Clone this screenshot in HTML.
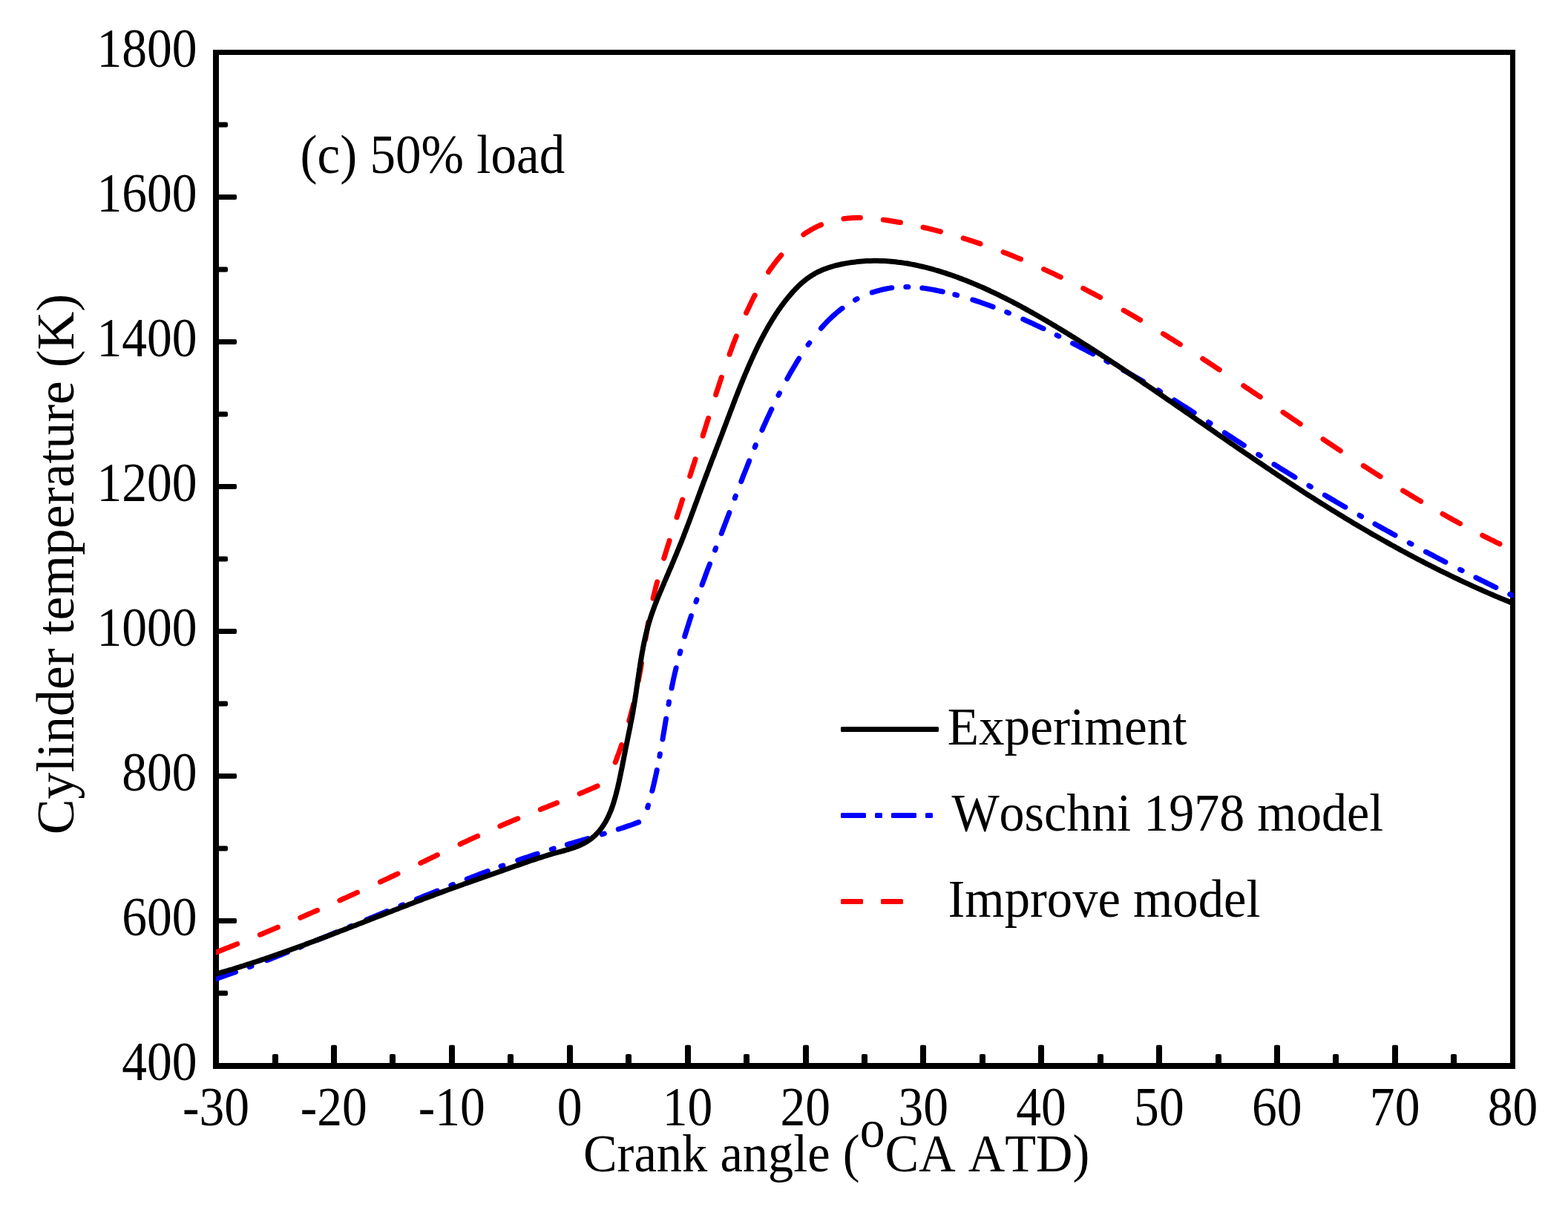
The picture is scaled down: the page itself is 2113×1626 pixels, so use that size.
<!DOCTYPE html>
<html lang="en">
<head>
<meta charset="utf-8">
<title>Cylinder temperature vs crank angle (c) 50% load</title>
<style>
html,body{margin:0;padding:0;background:#fff;}
body{width:2113px;height:1626px;overflow:hidden;}
svg{display:block;}
svg text{font-family:"Liberation Serif","Times New Roman",Times,serif;fill:#000;stroke:#000;stroke-width:0px;stroke-linejoin:round;paint-order:stroke fill;font-kerning:none;font-variant-ligatures:none;white-space:pre;}
</style>
</head>
<body>
<svg xmlns="http://www.w3.org/2000/svg" width="2113" height="1626" viewBox="0 0 2113 1626">
<rect x="0" y="0" width="2113" height="1626" fill="#fff"/>
<defs><clipPath id="plot"><rect x="291.00" y="70.50" width="1748.70" height="1365.50"/></clipPath></defs>
<g fill="#000"><rect x="367" y="1420" width="8" height="16" rx="2"/>
<rect x="446" y="1407.75" width="8" height="28.25" rx="2"/>
<rect x="525" y="1420" width="8" height="16" rx="2"/>
<rect x="605" y="1407.75" width="8" height="28.25" rx="2"/>
<rect x="684" y="1420" width="8" height="16" rx="2"/>
<rect x="764" y="1407.75" width="8" height="28.25" rx="2"/>
<rect x="843" y="1420" width="8" height="16" rx="2"/>
<rect x="923" y="1407.75" width="8" height="28.25" rx="2"/>
<rect x="1002" y="1420" width="8" height="16" rx="2"/>
<rect x="1082" y="1407.75" width="8" height="28.25" rx="2"/>
<rect x="1161" y="1420" width="8" height="16" rx="2"/>
<rect x="1240" y="1407.75" width="8" height="28.25" rx="2"/>
<rect x="1320" y="1420" width="8" height="16" rx="2"/>
<rect x="1399" y="1407.75" width="8" height="28.25" rx="2"/>
<rect x="1479" y="1420" width="8" height="16" rx="2"/>
<rect x="1558" y="1407.75" width="8" height="28.25" rx="2"/>
<rect x="1638" y="1420" width="8" height="16" rx="2"/>
<rect x="1717" y="1407.75" width="8" height="28.25" rx="2"/>
<rect x="1796" y="1420" width="8" height="16" rx="2"/>
<rect x="1876" y="1407.75" width="8" height="28.25" rx="2"/>
<rect x="1955" y="1420" width="8" height="16" rx="2"/>
<rect x="291" y="1334.5" width="16" height="7" rx="2"/>
<rect x="291" y="1237" width="28.05" height="7" rx="2"/>
<rect x="291" y="1139.5" width="16" height="7" rx="2"/>
<rect x="291" y="1042" width="28.05" height="7" rx="2"/>
<rect x="291" y="944.5" width="16" height="7" rx="2"/>
<rect x="291" y="847" width="28.05" height="7" rx="2"/>
<rect x="291" y="749.5" width="16" height="7" rx="2"/>
<rect x="291" y="652" width="28.05" height="7" rx="2"/>
<rect x="291" y="554.5" width="16" height="7" rx="2"/>
<rect x="291" y="457" width="28.05" height="7" rx="2"/>
<rect x="291" y="359.5" width="16" height="7" rx="2"/>
<rect x="291" y="262" width="28.05" height="7" rx="2"/>
<rect x="291" y="164.5" width="16" height="7" rx="2"/></g>
<path d="M287 67H2042V1440H287Z M295 74V1432H2035V74Z" fill="#000" fill-rule="evenodd"/>
<g clip-path="url(#plot)">
<path d="M289.1 1319.3 L289.6 1319.2 L292.4 1318.2 L295.3 1317.3 L298.1 1316.3 L301.0 1315.3 L303.8 1314.3 L306.6 1313.3 L309.5 1312.3 L312.3 1311.3 L315.1 1310.3 L317.5 1309.5 M336.2 1302.6 L336.7 1302.4 L339.0 1301.5 M359.6 1293.7 L360.1 1293.5 L362.9 1292.4 L365.6 1291.4 L368.4 1290.3 L371.2 1289.2 L374.0 1288.1 L376.8 1287.0 L379.6 1285.9 L382.4 1284.7 L385.2 1283.6 L387.5 1282.7 M404.2 1276.0 L404.6 1275.8 L407.0 1274.8 M427.3 1266.5 L427.8 1266.3 L430.6 1265.2 L433.3 1264.0 L436.1 1262.9 L438.9 1261.8 L441.7 1260.6 L444.4 1259.5 L447.2 1258.3 L450.0 1257.2 L452.7 1256.0 L454.1 1255.5 M470.8 1248.6 L471.2 1248.4 L473.5 1247.4 M493.9 1239.0 L494.3 1238.8 L497.1 1237.7 L499.9 1236.5 L502.7 1235.4 L505.4 1234.3 L508.2 1233.1 L511.0 1232.0 L513.8 1230.8 L516.5 1229.7 L519.3 1228.5 L521.6 1227.6 M540.1 1220.0 L540.6 1219.8 L542.9 1218.9 M561.4 1211.3 L561.9 1211.1 L564.7 1210.0 L567.5 1208.9 L570.2 1207.7 L573.0 1206.6 L575.8 1205.5 L578.6 1204.4 L581.4 1203.3 L584.2 1202.1 L586.9 1201.0 L589.3 1200.1 M607.8 1192.7 L608.3 1192.5 L610.6 1191.6 M629.2 1184.3 L629.7 1184.1 L632.5 1183.0 L635.3 1181.9 L638.1 1180.9 L640.9 1179.8 L643.7 1178.7 L646.5 1177.6 L649.3 1176.6 L652.1 1175.5 L654.9 1174.5 L657.3 1173.6 M675.1 1167.0 L675.5 1166.8 L677.9 1166.0 M697.7 1159.0 L698.2 1158.8 L701.0 1157.9 L703.8 1156.9 L706.7 1155.9 L709.5 1155.0 L712.4 1154.0 L715.2 1153.1 L718.1 1152.1 L720.9 1151.2 L723.8 1150.3 L724.2 1150.1 M743.3 1144.1 L743.8 1144.0 L746.2 1143.2 M764.4 1137.7 L764.9 1137.6 L767.7 1136.7 L770.6 1135.9 L773.5 1135.0 L776.4 1134.2 L779.3 1133.4 L782.1 1132.5 L785.0 1131.7 L787.9 1130.8 L790.8 1130.0 L792.2 1129.6 M811.4 1123.9 L811.9 1123.8 L814.3 1123.0 M833.3 1117.1 L833.8 1116.9 L836.7 1116.0 L839.5 1115.1 L842.3 1114.1 L845.2 1113.1 L848.0 1112.2 L850.8 1111.2 L853.7 1110.2 L856.5 1109.1 L859.3 1108.1 L860.7 1107.6 M872.7 1087.7 L872.8 1087.2 L873.5 1084.8 M878.8 1065.5 L879.0 1065.0 L879.7 1062.1 L880.4 1059.2 L881.1 1056.3 L881.8 1053.4 L882.4 1050.4 L883.1 1047.5 L883.7 1044.6 L884.4 1041.7 L885.0 1038.7 L885.3 1037.3 M888.9 1018.6 L889.0 1018.1 L889.4 1015.7 M892.9 995.9 L893.0 995.4 L893.5 992.5 L894.0 989.5 L894.5 986.6 L895.0 983.6 L895.5 980.6 L896.0 977.7 L896.5 974.7 L897.0 971.7 L897.5 968.8 L897.6 968.3 M901.0 948.6 L901.1 948.1 L901.5 945.6 M905.1 927.0 L905.2 926.5 L905.8 923.5 L906.4 920.6 L907.0 917.7 L907.6 914.7 L908.3 911.8 L908.9 908.9 L909.6 906.0 L910.3 903.1 L911.0 900.1 L911.1 899.7 M916.1 880.3 L916.2 879.8 L916.9 877.4 M922.7 857.3 L922.8 856.8 L923.7 853.9 L924.6 851.1 L925.5 848.2 L926.4 845.3 L927.3 842.5 L928.2 839.6 L929.1 836.8 L930.0 833.9 L931.0 831.1 L931.4 829.6 M937.9 810.7 L938.1 810.2 L938.9 807.8 M946.0 788.0 L946.1 787.6 L947.2 784.7 L948.2 781.9 L949.3 779.1 L950.3 776.3 L951.3 773.5 L952.4 770.6 L953.4 767.8 L954.5 765.0 L955.6 762.2 L956.5 759.8 M963.6 741.1 L963.8 740.6 L964.6 738.3 M972.2 718.7 L972.4 718.2 L973.4 715.4 L974.5 712.6 L975.6 709.8 L976.6 707.0 L977.7 704.2 L978.8 701.4 L979.8 698.6 L980.9 695.8 L982.0 693.0 L982.8 690.6 M990.3 671.0 L990.4 670.5 L991.3 668.2 M998.8 648.6 L999.0 648.2 L1000.0 645.4 L1001.1 642.6 L1002.2 639.8 L1003.3 637.0 L1004.4 634.3 L1005.5 631.5 L1006.6 628.7 L1007.7 625.9 L1008.8 623.1 L1009.7 620.8 M1017.2 602.4 L1017.4 601.9 L1018.3 599.6 M1026.9 579.4 L1027.1 579.0 L1028.3 576.2 L1029.5 573.5 L1030.8 570.8 L1032.0 568.0 L1033.2 565.3 L1034.5 562.6 L1035.7 559.9 L1037.0 557.2 L1038.3 554.4 L1039.5 551.7 L1039.8 551.3 M1049.0 532.4 L1049.3 532.0 L1050.4 529.7 M1060.8 510.2 L1061.1 509.7 L1062.5 507.1 L1064.0 504.4 L1065.5 501.8 L1067.0 499.2 L1068.6 496.5 L1070.1 493.9 L1071.7 491.3 L1073.2 488.7 L1074.8 486.1 L1076.4 483.5 L1076.7 483.0 M1089.0 464.4 L1089.3 464.0 L1090.8 462.0 M1106.4 442.3 L1106.7 441.9 L1108.7 439.6 L1110.7 437.4 L1112.7 435.3 L1114.8 433.1 L1116.9 431.0 L1119.0 429.0 L1121.2 426.9 L1123.4 424.9 L1125.6 423.0 L1127.8 421.0 L1130.1 419.2 L1132.4 417.3 L1134.7 415.5 L1135.1 415.3 M1152.5 404.0 L1152.9 403.8 L1155.1 402.6 M1175.3 394.0 L1175.8 393.9 L1178.6 393.0 L1181.5 392.1 L1184.5 391.3 L1187.4 390.5 L1190.3 389.8 L1193.3 389.2 L1196.3 388.6 L1199.2 388.1 L1201.8 387.8 M1220.8 386.4 L1221.3 386.4 L1223.8 386.4 M1242.8 388.0 L1243.3 388.0 L1246.2 388.4 L1249.2 388.9 L1252.2 389.4 L1255.1 389.9 L1258.1 390.4 L1261.0 391.0 L1264.0 391.6 L1266.9 392.2 L1269.8 392.8 L1270.3 392.9 M1286.8 396.9 L1287.3 397.0 L1289.7 397.6 M1310.8 403.8 L1311.2 404.0 L1314.1 404.9 L1316.9 405.8 L1319.8 406.7 L1322.6 407.7 L1325.4 408.7 L1328.2 409.7 L1331.1 410.7 L1333.9 411.7 L1336.7 412.7 L1338.1 413.3 M1356.7 420.6 L1357.2 420.8 L1359.5 421.7 M1378.8 430.0 L1379.3 430.2 L1382.0 431.5 L1384.7 432.7 L1387.5 434.0 L1390.2 435.2 L1392.9 436.5 L1395.7 437.8 L1398.4 439.1 L1401.1 440.3 L1403.8 441.6 L1406.1 442.7 M1424.1 451.6 L1424.6 451.8 L1426.8 452.9 M1445.6 462.5 L1446.1 462.7 L1448.7 464.1 L1451.4 465.5 L1454.1 466.9 L1456.7 468.3 L1459.4 469.7 L1462.1 471.0 L1464.7 472.4 L1467.4 473.8 L1470.0 475.2 L1472.7 476.6 L1473.1 476.8 M1490.8 486.2 L1491.2 486.4 L1493.4 487.6 M1513.6 498.6 L1514.0 498.8 L1516.6 500.2 L1519.2 501.7 L1521.8 503.1 L1524.4 504.6 L1527.0 506.1 L1529.6 507.5 L1532.2 509.0 L1534.8 510.5 L1537.4 512.0 L1540.0 513.5 L1540.4 513.7 M1561.0 525.8 L1561.5 526.1 L1563.6 527.4 M1582.3 538.9 L1582.7 539.2 L1585.2 540.8 L1587.8 542.4 L1590.3 544.0 L1592.8 545.6 L1595.4 547.2 L1597.9 548.8 L1600.4 550.4 L1602.9 552.0 L1605.4 553.7 L1608.0 555.3 L1609.2 556.1 M1628.5 568.7 L1628.9 569.0 L1631.0 570.3 M1650.3 583.0 L1650.7 583.2 L1653.2 584.9 L1655.7 586.5 L1658.3 588.2 L1660.8 589.8 L1663.3 591.4 L1665.8 593.1 L1668.3 594.7 L1670.9 596.3 L1673.4 598.0 L1675.9 599.6 L1676.3 599.9 M1695.7 612.3 L1696.2 612.5 L1698.3 613.9 M1716.9 625.6 L1717.4 625.8 L1719.9 627.4 L1722.5 629.0 L1725.0 630.6 L1727.6 632.2 L1730.1 633.7 L1732.7 635.3 L1735.2 636.9 L1737.8 638.5 L1740.3 640.0 L1742.9 641.6 L1745.0 642.9 M1763.9 654.3 L1764.3 654.6 L1766.4 655.8 M1785.3 667.1 L1785.8 667.3 L1788.3 668.9 L1790.9 670.4 L1793.5 671.9 L1796.1 673.4 L1798.7 674.9 L1801.3 676.5 L1803.9 678.0 L1806.5 679.5 L1809.1 681.0 L1811.6 682.5 L1812.9 683.2 M1832.0 694.2 L1832.5 694.4 L1834.6 695.7 M1852.9 706.0 L1853.3 706.2 L1856.0 707.7 L1858.6 709.2 L1861.2 710.6 L1863.8 712.1 L1866.4 713.5 L1869.1 715.0 L1871.7 716.4 L1874.3 717.9 L1876.9 719.3 L1879.6 720.8 L1880.0 721.0 M1899.3 731.5 L1899.8 731.8 L1902.0 732.9 M1921.4 743.3 L1921.8 743.5 L1924.5 744.9 L1927.1 746.3 L1929.8 747.7 L1932.4 749.1 L1935.1 750.5 L1937.7 751.9 L1940.4 753.3 L1943.1 754.7 L1945.7 756.1 L1947.9 757.2 M1967.5 767.3 L1967.9 767.5 L1970.2 768.6 M1988.9 778.1 L1989.4 778.3 L1992.0 779.7 L1994.7 781.0 L1997.4 782.3 L2000.1 783.7 L2002.8 785.0 L2005.5 786.3 L2008.2 787.7 L2010.9 789.0 L2013.6 790.3 L2015.8 791.4 M2034.7 800.6 L2035.2 800.8 L2037.4 801.9" fill="none" stroke="#0000ff" stroke-width="7" stroke-linecap="round" stroke-linejoin="round"/>
<path d="M289.0 1283.8 L289.5 1283.6 L292.3 1282.5 L295.1 1281.4 L297.9 1280.3 L300.6 1279.2 L303.4 1278.1 L306.2 1277.0 L309.0 1275.9 L311.8 1274.8 L314.6 1273.7 L317.4 1272.6 L319.7 1271.6 M350.3 1259.2 L350.8 1259.0 L353.5 1257.9 L356.3 1256.7 L359.1 1255.6 L361.8 1254.4 L364.6 1253.3 L367.4 1252.1 L370.2 1250.9 L372.9 1249.8 L374.3 1249.2 M404.7 1236.3 L405.1 1236.1 L407.9 1234.9 L410.6 1233.7 L413.4 1232.5 L416.2 1231.3 L418.9 1230.1 L421.7 1228.9 L424.4 1227.7 L427.2 1226.5 L427.6 1226.3 M457.8 1212.9 L458.3 1212.7 L461.0 1211.5 L463.7 1210.3 L466.5 1209.1 L469.2 1207.8 L471.9 1206.6 L474.7 1205.3 L477.4 1204.1 L480.1 1202.9 L481.5 1202.3 M512.4 1188.1 L512.9 1187.9 L515.6 1186.6 L518.3 1185.3 L521.1 1184.1 L523.8 1182.8 L526.5 1181.5 L529.2 1180.3 L531.9 1179.0 L534.7 1177.7 L536.0 1177.1 M566.8 1162.6 L567.2 1162.4 L569.9 1161.1 L572.6 1159.8 L575.4 1158.5 L578.1 1157.2 L580.8 1155.9 L583.5 1154.6 L586.2 1153.3 L588.9 1152.0 L589.4 1151.8 M620.1 1137.2 L620.5 1137.0 L623.2 1135.7 L626.0 1134.4 L628.7 1133.2 L631.4 1131.9 L634.1 1130.6 L636.8 1129.4 L639.6 1128.1 L642.3 1126.9 L643.7 1126.3 M673.8 1112.9 L674.3 1112.7 L677.0 1111.5 L679.8 1110.3 L682.5 1109.1 L685.3 1108.0 L688.1 1106.8 L690.8 1105.6 L693.6 1104.5 L696.4 1103.3 L697.8 1102.8 M728.3 1090.4 L728.8 1090.2 L731.6 1089.1 L734.4 1088.0 L737.2 1086.9 L740.0 1085.8 L742.7 1084.7 L745.5 1083.5 L748.3 1082.4 L750.6 1081.5 M781.2 1069.1 L781.6 1068.9 L784.4 1067.8 L787.2 1066.6 L789.9 1065.5 L792.7 1064.3 L795.5 1063.1 L798.2 1061.9 L801.0 1060.7 L803.7 1059.5 L805.1 1058.9 M829.2 1026.9 L829.4 1026.5 L830.5 1023.6 L831.5 1020.8 L832.5 1018.0 L833.6 1015.2 L834.6 1012.4 L835.6 1009.5 L836.6 1006.7 L837.5 1003.9 L837.7 1003.4 M847.8 971.0 L847.9 970.5 L848.7 967.6 L849.5 964.7 L850.3 961.8 L851.0 958.9 L851.8 956.0 L852.5 953.1 L853.2 950.2 L853.5 948.8 M860.4 916.5 L860.5 916.0 L861.0 913.0 L861.6 910.1 L862.1 907.1 L862.7 904.2 L863.2 901.2 L863.7 898.3 L864.2 895.3 L864.5 893.8 M869.8 861.2 L869.9 860.7 L870.4 857.7 L870.9 854.7 L871.4 851.8 L871.9 848.8 L872.4 845.8 L872.9 842.9 L873.4 839.9 L873.7 838.4 M880.1 806.1 L880.2 805.6 L880.9 802.7 L881.6 799.8 L882.3 796.9 L883.0 794.0 L883.7 791.1 L884.5 788.2 L885.2 785.3 L885.6 783.9 M894.7 752.2 L894.9 751.8 L895.7 748.9 L896.6 746.0 L897.5 743.2 L898.4 740.3 L899.3 737.4 L900.2 734.6 L901.1 731.7 L902.0 728.9 L902.1 728.4 M912.1 696.9 L912.2 696.4 L913.1 693.5 L914.0 690.7 L914.9 687.8 L915.9 684.9 L916.8 682.1 L917.7 679.2 L918.6 676.3 L919.5 673.5 L919.7 673.0 M929.7 641.5 L929.9 641.0 L930.8 638.1 L931.7 635.2 L932.6 632.4 L933.5 629.5 L934.5 626.6 L935.4 623.8 L936.3 620.9 L937.1 618.5 M947.1 587.1 L947.2 586.6 L948.1 583.7 L949.1 580.9 L950.0 578.0 L950.9 575.2 L951.8 572.3 L952.7 569.4 L953.6 566.6 L954.5 563.7 L954.6 563.3 M964.6 531.9 L964.7 531.5 L965.6 528.6 L966.5 525.8 L967.5 522.9 L968.4 520.1 L969.3 517.3 L970.2 514.4 L971.2 511.6 L972.1 508.8 L972.3 508.3 M983.1 477.3 L983.2 476.8 L984.2 474.0 L985.3 471.2 L986.3 468.4 L987.4 465.6 L988.4 462.8 L989.5 460.0 L990.6 457.2 L991.7 454.4 L992.3 453.0 M1005.6 421.6 L1005.8 421.1 L1007.1 418.4 L1008.4 415.6 L1009.7 412.9 L1011.0 410.1 L1012.3 407.4 L1013.7 404.7 L1015.0 401.9 L1016.4 399.2 L1017.2 397.8 M1035.6 366.4 L1035.9 365.9 L1037.6 363.4 L1039.4 360.9 L1041.2 358.5 L1042.9 356.0 L1044.8 353.6 L1046.6 351.2 L1048.5 348.8 L1050.5 346.5 L1052.4 344.2 L1052.8 343.8 M1082.8 316.0 L1083.2 315.7 L1085.6 314.0 L1088.1 312.4 L1090.6 310.9 L1093.1 309.4 L1095.7 308.0 L1098.3 306.6 L1100.9 305.3 L1103.6 304.1 L1106.3 303.0 L1106.6 302.8 M1136.9 294.7 L1137.3 294.6 L1140.2 294.3 L1143.1 293.9 L1146.1 293.7 L1149.0 293.5 L1152.0 293.4 L1154.9 293.3 L1157.9 293.3 L1159.4 293.3 M1190.4 296.0 L1190.9 296.1 L1193.9 296.5 L1196.9 297.0 L1199.9 297.5 L1202.9 298.0 L1205.9 298.5 L1208.9 299.0 L1211.9 299.6 L1213.4 299.8 M1244.0 306.2 L1244.5 306.3 L1247.4 307.0 L1250.4 307.7 L1253.3 308.4 L1256.2 309.1 L1259.1 309.9 L1262.1 310.6 L1265.0 311.4 L1267.4 312.0 M1298.2 320.9 L1298.7 321.1 L1301.6 322.0 L1304.5 322.9 L1307.3 323.8 L1310.2 324.7 L1313.0 325.7 L1315.9 326.6 L1318.7 327.6 L1321.1 328.4 M1352.1 339.7 L1352.6 339.9 L1355.4 341.0 L1358.2 342.1 L1361.0 343.2 L1363.8 344.3 L1366.6 345.4 L1369.4 346.6 L1372.1 347.7 L1374.9 348.9 L1375.4 349.0 M1406.6 362.6 L1407.0 362.9 L1409.8 364.1 L1412.5 365.4 L1415.2 366.6 L1417.9 367.9 L1420.7 369.2 L1423.4 370.5 L1426.1 371.8 L1428.8 373.1 L1429.3 373.3 M1459.7 388.5 L1460.1 388.7 L1462.8 390.1 L1465.5 391.5 L1468.1 392.9 L1470.8 394.3 L1473.4 395.7 L1476.1 397.1 L1478.7 398.5 L1481.4 399.9 L1482.7 400.6 M1514.2 418.1 L1514.6 418.3 L1517.2 419.8 L1519.8 421.3 L1522.4 422.8 L1525.0 424.3 L1527.6 425.8 L1530.2 427.3 L1532.8 428.8 L1535.3 430.4 L1536.6 431.1 M1567.4 449.7 L1567.9 449.9 L1570.4 451.5 L1573.0 453.1 L1575.5 454.7 L1578.1 456.2 L1580.6 457.8 L1583.2 459.4 L1585.7 461.0 L1588.2 462.6 L1590.4 463.9 M1620.7 483.3 L1621.1 483.6 L1623.6 485.2 L1626.1 486.8 L1628.7 488.5 L1631.2 490.1 L1633.7 491.8 L1636.2 493.4 L1638.7 495.1 L1641.2 496.7 L1643.3 498.1 M1675.8 519.6 L1676.2 519.9 L1678.7 521.6 L1681.2 523.3 L1683.7 524.9 L1686.2 526.6 L1688.7 528.3 L1691.2 530.0 L1693.7 531.6 L1696.2 533.3 L1698.3 534.7 M1729.0 555.4 L1729.4 555.7 L1731.9 557.4 L1734.4 559.0 L1736.8 560.7 L1739.3 562.4 L1741.8 564.1 L1744.3 565.8 L1746.8 567.4 L1749.3 569.1 L1751.8 570.8 L1752.2 571.1 M1783.0 591.7 L1783.4 592.0 L1785.9 593.6 L1788.4 595.3 L1790.9 597.0 L1793.4 598.6 L1795.9 600.3 L1798.4 601.9 L1800.9 603.6 L1803.4 605.3 L1805.9 606.9 L1806.3 607.2 M1837.3 627.4 L1837.7 627.7 L1840.3 629.3 L1842.8 630.9 L1845.3 632.5 L1847.8 634.1 L1850.4 635.8 L1852.9 637.4 L1855.4 639.0 L1858.0 640.6 L1860.1 641.9 M1890.6 660.9 L1891.1 661.2 L1893.6 662.7 L1896.2 664.3 L1898.7 665.8 L1901.3 667.4 L1903.9 668.9 L1906.5 670.5 L1909.0 672.0 L1911.6 673.5 L1914.2 675.0 L1914.6 675.3 M1944.0 692.3 L1944.5 692.6 L1947.1 694.0 L1949.7 695.5 L1952.3 697.0 L1954.9 698.4 L1957.5 699.9 L1960.2 701.3 L1962.8 702.7 L1965.4 704.2 L1967.6 705.4 M1997.7 721.2 L1998.2 721.5 L2000.8 722.8 L2003.5 724.2 L2006.2 725.5 L2008.9 726.9 L2011.6 728.2 L2014.3 729.5 L2017.0 730.9 L2019.7 732.2 L2021.0 732.8" fill="none" stroke="#ff0000" stroke-width="7" stroke-linecap="round" stroke-linejoin="round"/>
<path d="M285.0 1313.8 L287.9 1313.0 L290.8 1312.2 L293.7 1311.4 L296.6 1310.5 L299.4 1309.7 L302.3 1308.9 L305.2 1308.0 L308.1 1307.2 L311.0 1306.3 L313.8 1305.5 L316.7 1304.6 L319.6 1303.7 L322.4 1302.8 L325.3 1301.9 L328.2 1301.0 L331.0 1300.1 L333.9 1299.2 L336.7 1298.3 L339.6 1297.4 L342.4 1296.4 L345.3 1295.5 L348.1 1294.6 L351.0 1293.6 L353.8 1292.7 L356.7 1291.7 L359.5 1290.7 L362.4 1289.8 L365.2 1288.8 L368.0 1287.8 L370.9 1286.8 L373.7 1285.9 L376.5 1284.9 L379.4 1283.9 L382.2 1282.9 L385.0 1281.9 L387.8 1280.9 L390.7 1279.8 L393.5 1278.8 L396.3 1277.8 L399.1 1276.8 L401.9 1275.8 L404.8 1274.7 L407.6 1273.7 L410.4 1272.7 L413.2 1271.6 L416.0 1270.6 L418.8 1269.5 L421.6 1268.5 L424.4 1267.4 L427.3 1266.4 L430.1 1265.3 L432.9 1264.2 L435.7 1263.2 L438.5 1262.1 L441.3 1261.1 L444.1 1260.0 L446.9 1258.9 L449.7 1257.8 L452.5 1256.8 L455.3 1255.7 L458.1 1254.6 L460.9 1253.5 L463.7 1252.4 L466.5 1251.4 L469.3 1250.3 L472.1 1249.2 L474.9 1248.1 L477.7 1247.0 L480.5 1245.9 L483.3 1244.8 L486.1 1243.8 L488.9 1242.7 L491.6 1241.6 L494.4 1240.5 L497.2 1239.4 L500.0 1238.3 L502.8 1237.2 L505.6 1236.1 L508.4 1235.0 L511.2 1234.0 L514.0 1232.9 L516.8 1231.8 L519.6 1230.7 L522.4 1229.6 L525.2 1228.5 L527.9 1227.4 L530.7 1226.3 L533.5 1225.3 L536.3 1224.2 L539.1 1223.1 L541.9 1222.0 L544.7 1221.0 L547.5 1219.9 L550.3 1218.8 L553.1 1217.7 L555.9 1216.7 L558.7 1215.6 L561.5 1214.5 L564.3 1213.5 L567.1 1212.4 L569.9 1211.3 L572.7 1210.3 L575.5 1209.2 L578.3 1208.2 L581.1 1207.1 L583.9 1206.1 L586.7 1205.0 L589.5 1204.0 L592.3 1202.9 L595.1 1201.9 L597.9 1200.9 L600.8 1199.8 L603.6 1198.8 L606.4 1197.8 L609.2 1196.7 L612.0 1195.7 L614.9 1194.7 L617.7 1193.7 L620.5 1192.7 L623.3 1191.7 L626.2 1190.6 L629.0 1189.6 L631.8 1188.6 L634.7 1187.6 L637.5 1186.6 L640.4 1185.6 L643.2 1184.6 L646.0 1183.6 L648.9 1182.6 L651.7 1181.7 L654.6 1180.7 L657.4 1179.7 L660.3 1178.7 L663.1 1177.7 L665.9 1176.7 L668.8 1175.7 L671.6 1174.7 L674.4 1173.7 L677.3 1172.8 L680.1 1171.8 L682.9 1170.8 L685.7 1169.8 L688.5 1168.8 L691.4 1167.8 L694.2 1166.8 L697.0 1165.8 L699.8 1164.9 L702.6 1163.9 L705.4 1162.9 L708.2 1161.9 L711.0 1160.9 L713.8 1160.0 L716.7 1159.0 L719.5 1158.1 L722.3 1157.1 L725.1 1156.2 L728.0 1155.3 L730.8 1154.4 L733.7 1153.5 L736.6 1152.6 L739.4 1151.7 L742.3 1150.8 L745.2 1150.0 L748.1 1149.2 L751.1 1148.4 L754.0 1147.6 L756.9 1146.8 L759.9 1146.0 L762.8 1145.2 L765.7 1144.3 L768.6 1143.5 L771.5 1142.5 L774.4 1141.6 L777.2 1140.5 L780.0 1139.4 L782.7 1138.2 L785.4 1136.9 L788.0 1135.5 L790.6 1134.0 L793.1 1132.4 L795.5 1130.7 L797.8 1128.9 L800.1 1127.0 L802.3 1125.0 L804.3 1122.9 L806.4 1120.7 L808.3 1118.5 L810.1 1116.2 L811.8 1113.8 L813.5 1111.3 L815.0 1108.8 L816.5 1106.2 L817.9 1103.6 L819.2 1100.9 L820.5 1098.2 L821.7 1095.4 L822.9 1092.6 L824.0 1089.8 L825.0 1087.0 L826.0 1084.1 L826.9 1081.2 L827.8 1078.2 L828.7 1075.3 L829.5 1072.3 L830.3 1069.4 L831.0 1066.4 L831.8 1063.5 L832.5 1060.5 L833.2 1057.6 L833.8 1054.7 L834.5 1051.7 L835.1 1048.8 L835.7 1045.9 L836.3 1043.0 L836.9 1040.0 L837.5 1037.1 L838.1 1034.2 L838.7 1031.3 L839.2 1028.4 L839.8 1025.5 L840.4 1022.6 L840.9 1019.6 L841.5 1016.7 L842.1 1013.8 L842.6 1010.9 L843.2 1008.0 L843.8 1005.1 L844.4 1002.1 L845.0 999.2 L845.6 996.3 L846.2 993.3 L846.8 990.4 L847.4 987.5 L848.0 984.5 L848.6 981.6 L849.2 978.7 L849.7 975.7 L850.3 972.8 L850.9 969.8 L851.5 966.9 L852.0 963.9 L852.6 961.0 L853.1 958.0 L853.6 955.0 L854.1 952.1 L854.6 949.1 L855.1 946.1 L855.6 943.2 L856.0 940.2 L856.5 937.2 L856.9 934.2 L857.4 931.3 L857.8 928.3 L858.2 925.3 L858.7 922.3 L859.1 919.3 L859.5 916.4 L860.0 913.4 L860.4 910.4 L860.8 907.4 L861.3 904.5 L861.7 901.5 L862.2 898.5 L862.6 895.6 L863.1 892.6 L863.6 889.6 L864.1 886.7 L864.6 883.7 L865.1 880.8 L865.6 877.8 L866.2 874.9 L866.7 871.9 L867.3 869.0 L867.9 866.0 L868.5 863.1 L869.1 860.2 L869.8 857.3 L870.5 854.4 L871.2 851.5 L871.9 848.6 L872.7 845.7 L873.4 842.8 L874.3 839.9 L875.1 837.1 L876.0 834.2 L876.9 831.3 L877.8 828.5 L878.8 825.7 L879.8 822.8 L880.8 820.0 L881.8 817.2 L882.9 814.4 L884.0 811.6 L885.1 808.8 L886.2 806.0 L887.4 803.2 L888.5 800.4 L889.7 797.7 L890.9 794.9 L892.0 792.1 L893.2 789.3 L894.4 786.6 L895.5 783.8 L896.7 781.1 L897.9 778.3 L899.1 775.5 L900.3 772.8 L901.4 770.0 L902.6 767.3 L903.8 764.5 L905.0 761.8 L906.1 759.0 L907.3 756.3 L908.4 753.5 L909.6 750.7 L910.8 748.0 L911.9 745.2 L913.0 742.4 L914.2 739.7 L915.3 736.9 L916.4 734.1 L917.6 731.3 L918.7 728.6 L919.8 725.8 L920.9 723.0 L921.9 720.2 L923.0 717.4 L924.1 714.6 L925.2 711.8 L926.2 709.0 L927.3 706.2 L928.4 703.4 L929.4 700.6 L930.5 697.7 L931.5 694.9 L932.5 692.1 L933.6 689.3 L934.6 686.5 L935.7 683.6 L936.7 680.8 L937.7 678.0 L938.8 675.2 L939.8 672.4 L940.8 669.6 L941.9 666.7 L942.9 663.9 L944.0 661.1 L945.0 658.3 L946.0 655.5 L947.1 652.7 L948.1 649.8 L949.2 647.0 L950.2 644.2 L951.3 641.4 L952.4 638.6 L953.4 635.8 L954.5 633.0 L955.5 630.2 L956.6 627.4 L957.7 624.6 L958.7 621.8 L959.8 619.0 L960.9 616.2 L962.0 613.4 L963.0 610.6 L964.1 607.8 L965.2 605.0 L966.2 602.2 L967.3 599.5 L968.4 596.7 L969.4 593.9 L970.5 591.1 L971.6 588.3 L972.7 585.5 L973.7 582.7 L974.8 579.8 L975.8 577.0 L976.9 574.2 L978.0 571.4 L979.0 568.6 L980.1 565.8 L981.1 563.0 L982.2 560.2 L983.3 557.4 L984.3 554.6 L985.4 551.8 L986.5 549.0 L987.5 546.2 L988.6 543.4 L989.7 540.6 L990.7 537.8 L991.8 535.0 L992.9 532.2 L994.0 529.4 L995.1 526.6 L996.2 523.8 L997.3 521.0 L998.4 518.2 L999.6 515.4 L1000.7 512.6 L1001.8 509.9 L1003.0 507.1 L1004.1 504.3 L1005.3 501.6 L1006.5 498.8 L1007.7 496.0 L1008.8 493.3 L1010.0 490.6 L1011.3 487.8 L1012.5 485.1 L1013.7 482.4 L1015.0 479.6 L1016.2 476.9 L1017.5 474.2 L1018.8 471.5 L1020.1 468.8 L1021.4 466.1 L1022.7 463.4 L1024.1 460.7 L1025.4 458.1 L1026.8 455.4 L1028.2 452.8 L1029.6 450.1 L1031.0 447.5 L1032.5 444.9 L1033.9 442.3 L1035.4 439.7 L1036.9 437.1 L1038.5 434.5 L1040.0 431.9 L1041.6 429.4 L1043.2 426.8 L1044.8 424.3 L1046.5 421.8 L1048.1 419.3 L1049.8 416.8 L1051.6 414.4 L1053.3 411.9 L1055.1 409.5 L1056.9 407.1 L1058.8 404.7 L1060.7 402.3 L1062.6 400.0 L1064.5 397.7 L1066.5 395.4 L1068.5 393.1 L1070.6 390.9 L1072.6 388.7 L1074.8 386.5 L1076.9 384.4 L1079.1 382.4 L1081.4 380.4 L1083.7 378.5 L1086.0 376.6 L1088.4 374.8 L1090.8 373.1 L1093.3 371.5 L1095.8 369.9 L1098.3 368.4 L1100.9 367.0 L1103.6 365.7 L1106.3 364.5 L1109.0 363.3 L1111.8 362.2 L1114.6 361.2 L1117.5 360.2 L1120.3 359.3 L1123.2 358.5 L1126.1 357.7 L1129.0 357.0 L1132.0 356.3 L1134.9 355.7 L1137.9 355.1 L1140.8 354.6 L1143.8 354.1 L1146.8 353.6 L1149.8 353.2 L1152.8 352.9 L1155.7 352.5 L1158.7 352.2 L1161.7 352.0 L1164.7 351.8 L1167.7 351.6 L1170.7 351.5 L1173.8 351.4 L1176.8 351.3 L1179.8 351.3 L1182.8 351.3 L1185.8 351.4 L1188.8 351.5 L1191.8 351.6 L1194.8 351.8 L1197.8 352.0 L1200.8 352.2 L1203.8 352.5 L1206.8 352.8 L1209.8 353.2 L1212.7 353.5 L1215.7 353.9 L1218.7 354.4 L1221.6 354.8 L1224.6 355.3 L1227.6 355.9 L1230.5 356.4 L1233.4 357.0 L1236.4 357.6 L1239.3 358.3 L1242.2 359.0 L1245.2 359.7 L1248.1 360.4 L1251.0 361.1 L1253.9 361.9 L1256.8 362.7 L1259.6 363.5 L1262.5 364.3 L1265.4 365.2 L1268.3 366.1 L1271.1 367.0 L1274.0 367.9 L1276.8 368.9 L1279.7 369.8 L1282.5 370.8 L1285.3 371.8 L1288.2 372.8 L1291.0 373.8 L1293.8 374.9 L1296.6 375.9 L1299.4 377.0 L1302.2 378.1 L1304.9 379.2 L1307.7 380.3 L1310.5 381.4 L1313.2 382.6 L1316.0 383.8 L1318.7 384.9 L1321.5 386.1 L1324.2 387.3 L1327.0 388.5 L1329.7 389.8 L1332.4 391.0 L1335.1 392.3 L1337.8 393.6 L1340.5 394.8 L1343.2 396.1 L1345.9 397.4 L1348.6 398.8 L1351.3 400.1 L1354.0 401.4 L1356.7 402.8 L1359.3 404.1 L1362.0 405.5 L1364.7 406.9 L1367.3 408.3 L1370.0 409.7 L1372.6 411.1 L1375.3 412.5 L1377.9 414.0 L1380.5 415.4 L1383.2 416.9 L1385.8 418.3 L1388.4 419.8 L1391.0 421.2 L1393.6 422.7 L1396.3 424.2 L1398.9 425.7 L1401.5 427.2 L1404.1 428.7 L1406.7 430.2 L1409.3 431.7 L1411.8 433.3 L1414.4 434.8 L1417.0 436.3 L1419.6 437.9 L1422.2 439.4 L1424.7 441.0 L1427.3 442.5 L1429.9 444.1 L1432.5 445.6 L1435.0 447.2 L1437.6 448.8 L1440.1 450.4 L1442.7 451.9 L1445.2 453.5 L1447.8 455.1 L1450.3 456.7 L1452.9 458.3 L1455.4 459.9 L1458.0 461.5 L1460.5 463.1 L1463.0 464.7 L1465.6 466.3 L1468.1 467.9 L1470.6 469.5 L1473.2 471.1 L1475.7 472.8 L1478.2 474.4 L1480.7 476.0 L1483.3 477.6 L1485.8 479.3 L1488.3 480.9 L1490.8 482.5 L1493.3 484.2 L1495.8 485.8 L1498.3 487.5 L1500.8 489.1 L1503.4 490.8 L1505.9 492.4 L1508.4 494.1 L1510.9 495.7 L1513.4 497.4 L1515.9 499.1 L1518.3 500.7 L1520.8 502.4 L1523.3 504.1 L1525.8 505.7 L1528.3 507.4 L1530.8 509.1 L1533.3 510.8 L1535.8 512.4 L1538.3 514.1 L1540.7 515.8 L1543.2 517.5 L1545.7 519.2 L1548.2 520.9 L1550.7 522.5 L1553.1 524.2 L1555.6 525.9 L1558.1 527.6 L1560.6 529.3 L1563.1 531.0 L1565.5 532.7 L1568.0 534.4 L1570.5 536.1 L1572.9 537.8 L1575.4 539.5 L1577.9 541.2 L1580.4 542.9 L1582.8 544.6 L1585.3 546.3 L1587.8 548.0 L1590.2 549.7 L1592.7 551.4 L1595.2 553.1 L1597.6 554.8 L1600.1 556.5 L1602.6 558.2 L1605.0 559.9 L1607.5 561.7 L1610.0 563.4 L1612.4 565.1 L1614.9 566.8 L1617.4 568.5 L1619.8 570.2 L1622.3 571.9 L1624.8 573.6 L1627.2 575.3 L1629.7 577.0 L1632.1 578.7 L1634.6 580.4 L1637.1 582.1 L1639.5 583.9 L1642.0 585.6 L1644.5 587.3 L1646.9 589.0 L1649.4 590.7 L1651.9 592.4 L1654.4 594.1 L1656.8 595.8 L1659.3 597.5 L1661.8 599.2 L1664.2 600.9 L1666.7 602.6 L1669.2 604.3 L1671.7 606.0 L1674.1 607.7 L1676.6 609.4 L1679.1 611.1 L1681.6 612.7 L1684.0 614.4 L1686.5 616.1 L1689.0 617.8 L1691.5 619.5 L1693.9 621.2 L1696.4 622.9 L1698.9 624.5 L1701.4 626.2 L1703.9 627.9 L1706.4 629.6 L1708.9 631.3 L1711.4 632.9 L1713.8 634.6 L1716.3 636.3 L1718.8 637.9 L1721.3 639.6 L1723.8 641.3 L1726.3 642.9 L1728.8 644.6 L1731.3 646.2 L1733.8 647.9 L1736.3 649.5 L1738.8 651.2 L1741.3 652.8 L1743.9 654.5 L1746.4 656.1 L1748.9 657.7 L1751.4 659.4 L1753.9 661.0 L1756.4 662.6 L1758.9 664.3 L1761.5 665.9 L1764.0 667.5 L1766.5 669.1 L1769.1 670.7 L1771.6 672.3 L1774.1 674.0 L1776.7 675.6 L1779.2 677.2 L1781.7 678.8 L1784.3 680.3 L1786.8 681.9 L1789.4 683.5 L1791.9 685.1 L1794.5 686.7 L1797.0 688.3 L1799.6 689.8 L1802.1 691.4 L1804.7 693.0 L1807.2 694.5 L1809.8 696.1 L1812.4 697.7 L1814.9 699.2 L1817.5 700.8 L1820.1 702.3 L1822.7 703.9 L1825.2 705.4 L1827.8 706.9 L1830.4 708.5 L1833.0 710.0 L1835.6 711.5 L1838.2 713.0 L1840.7 714.5 L1843.3 716.0 L1845.9 717.6 L1848.5 719.1 L1851.1 720.6 L1853.7 722.0 L1856.3 723.5 L1858.9 725.0 L1861.6 726.5 L1864.2 728.0 L1866.8 729.4 L1869.4 730.9 L1872.0 732.4 L1874.6 733.8 L1877.3 735.3 L1879.9 736.7 L1882.5 738.2 L1885.1 739.6 L1887.8 741.1 L1890.4 742.5 L1893.1 743.9 L1895.7 745.3 L1898.3 746.8 L1901.0 748.2 L1903.6 749.6 L1906.3 751.0 L1908.9 752.4 L1911.6 753.8 L1914.3 755.2 L1916.9 756.5 L1919.6 757.9 L1922.2 759.3 L1924.9 760.7 L1927.6 762.0 L1930.3 763.4 L1932.9 764.7 L1935.6 766.1 L1938.3 767.4 L1941.0 768.8 L1943.7 770.1 L1946.4 771.4 L1949.1 772.7 L1951.8 774.0 L1954.5 775.4 L1957.2 776.7 L1959.9 778.0 L1962.6 779.2 L1965.3 780.5 L1968.0 781.8 L1970.7 783.1 L1973.4 784.4 L1976.1 785.6 L1978.9 786.9 L1981.6 788.1 L1984.3 789.4 L1987.0 790.6 L1989.8 791.9 L1992.5 793.1 L1995.3 794.3 L1998.0 795.5 L2000.7 796.7 L2003.5 797.9 L2006.2 799.1 L2009.0 800.3 L2011.8 801.5 L2014.5 802.7 L2017.3 803.9 L2020.0 805.0 L2022.8 806.2 L2025.6 807.3 L2028.4 808.5 L2031.1 809.6 L2033.9 810.8 L2036.7 811.9 L2039.5 813.0 L2042.3 814.1 L2045.1 815.2 L2046.0 815.6" fill="none" stroke="#000" stroke-width="7" stroke-linecap="round" stroke-linejoin="round"/>
</g>
<g>
<rect x="1133" y="979" width="132" height="7" rx="1.6" fill="#000"/>
<rect x="1133" y="1095" width="34" height="7" rx="1.6" fill="#0000ff"/>
<rect x="1179" y="1095" width="10" height="7" rx="1.6" fill="#0000ff"/>
<rect x="1201" y="1095" width="34" height="7" rx="1.6" fill="#0000ff"/>
<rect x="1247" y="1095" width="10" height="7" rx="1.6" fill="#0000ff"/>
<rect x="1133" y="1211" width="30" height="7" rx="1.6" fill="#ff0000"/>
<rect x="1187" y="1211" width="30" height="7" rx="1.6" fill="#ff0000"/>
</g>
<g>
<text transform="translate(265.60 1455.10) scale(0.9074 1)" font-size="74.50" text-anchor="end">400</text>
<text transform="translate(265.60 1260.10) scale(0.9074 1)" font-size="74.50" text-anchor="end">600</text>
<text transform="translate(265.60 1065.10) scale(0.9074 1)" font-size="74.50" text-anchor="end">800</text>
<text transform="translate(265.60 870.10) scale(0.9074 1)" font-size="74.50" text-anchor="end">1000</text>
<text transform="translate(265.60 675.10) scale(0.9074 1)" font-size="74.50" text-anchor="end">1200</text>
<text transform="translate(265.60 480.10) scale(0.9074 1)" font-size="74.50" text-anchor="end">1400</text>
<text transform="translate(265.60 285.10) scale(0.9074 1)" font-size="74.50" text-anchor="end">1600</text>
<text transform="translate(265.60 90.10) scale(0.9074 1)" font-size="74.50" text-anchor="end">1800</text>
<text transform="translate(291.00 1516.25) scale(0.9074 1)" font-size="74.50" text-anchor="middle">-30</text>
<text transform="translate(449.86 1516.25) scale(0.9074 1)" font-size="74.50" text-anchor="middle">-20</text>
<text transform="translate(608.73 1516.25) scale(0.9074 1)" font-size="74.50" text-anchor="middle">-10</text>
<text transform="translate(767.59 1516.25) scale(0.9074 1)" font-size="74.50" text-anchor="middle">0</text>
<text transform="translate(926.45 1516.25) scale(0.9074 1)" font-size="74.50" text-anchor="middle">10</text>
<text transform="translate(1085.32 1516.25) scale(0.9074 1)" font-size="74.50" text-anchor="middle">20</text>
<text transform="translate(1244.18 1516.25) scale(0.9074 1)" font-size="74.50" text-anchor="middle">30</text>
<text transform="translate(1403.05 1516.25) scale(0.9074 1)" font-size="74.50" text-anchor="middle">40</text>
<text transform="translate(1561.91 1516.25) scale(0.9074 1)" font-size="74.50" text-anchor="middle">50</text>
<text transform="translate(1720.77 1516.25) scale(0.9074 1)" font-size="74.50" text-anchor="middle">60</text>
<text transform="translate(1879.64 1516.25) scale(0.9074 1)" font-size="74.50" text-anchor="middle">70</text>
<text transform="translate(2038.50 1516.25) scale(0.9074 1)" font-size="74.50" text-anchor="middle">80</text>
<text transform="translate(785.94 1578.00) scale(0.9409 1)" font-size="72.80">Crank angle (<tspan font-size="72.00" dy="-33.20" dx="0.00">o</tspan><tspan dy="33.20" dx="0.00">CA ATD)</tspan></text>
<text transform="translate(98.75 1124.19) rotate(-90) scale(0.9958 1)" font-size="72.00">Cylinder temperature (K)</text>
<text transform="translate(404.47 233.00) scale(0.9440 1)" font-size="73.20" text-anchor="start">(c) 50% load</text>
<text transform="translate(1276.76 1003.00) scale(0.9505 1)" font-size="72.80" text-anchor="start">Experiment</text>
<text transform="translate(1282.43 1118.75) scale(0.9341 1)" font-size="72.80" text-anchor="start">Woschni 1978 model</text>
<text transform="translate(1277.52 1235.00) scale(0.9423 1)" font-size="72.80" text-anchor="start">Improve model</text>
</g>
</svg>
</body>
</html>
